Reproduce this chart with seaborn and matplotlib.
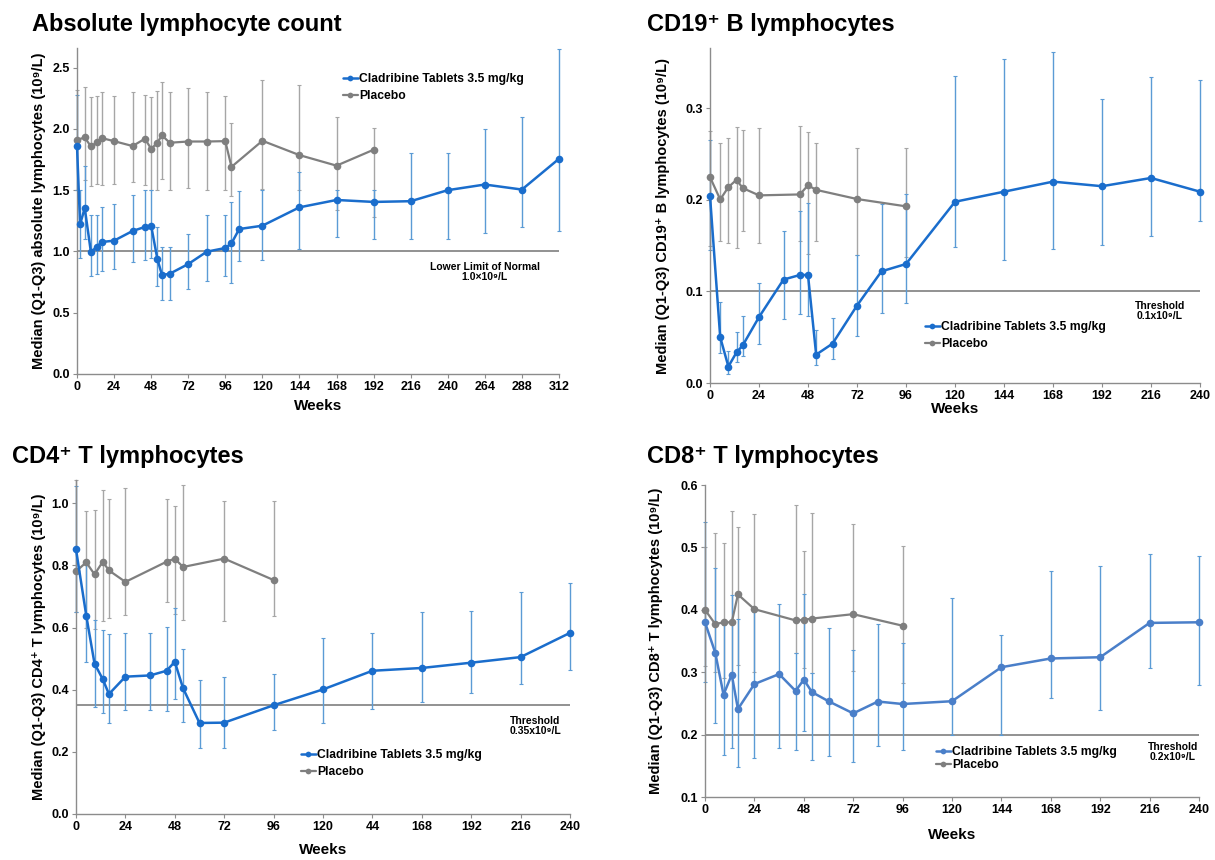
import matplotlib
matplotlib.use("Agg")
import matplotlib.pyplot as plt
import numpy as np
import pandas as pd
import seaborn as sns

sns.set_theme(style="ticks")
plt.rcParams["font.family"] = ["Liberation Sans", "DejaVu Sans"]
plt.rcParams["font.weight"] = "bold"
plt.rcParams["text.color"] = "black"
plt.rcParams["axes.labelcolor"] = "black"

LEG_CLA = "Cladribine Tablets 3.5 mg/kg"
LEG_PBO = "Placebo"

# Absolute lymphocyte count
alc_cla_weeks = [0, 2, 5, 9, 13, 16, 24, 36, 44, 48, 52, 55, 60, 72, 84, 96, 100, 105, 120,
                 144, 168, 192, 216, 240, 264, 288, 312]
alc_cla_med = [1.86, 1.22, 1.355, 0.995, 1.04, 1.077, 1.088, 1.167, 1.20, 1.21, 0.94, 0.807, 0.818,
               0.897, 0.998, 1.028, 1.066, 1.183, 1.21, 1.36, 1.42, 1.404, 1.41, 1.50, 1.546, 1.505, 1.756]
alc_cla_q1 = [1.50, 0.95, 1.10, 0.80, 0.82, 0.84, 0.86, 0.91, 0.93, 0.95, 0.72, 0.60, 0.60, 0.69,
              0.76, 0.80, 0.74, 0.92, 0.93, 1.02, 1.12, 1.10, 1.10, 1.10, 1.15, 1.20, 1.17]
alc_cla_q3 = [2.28, 1.50, 1.70, 1.30, 1.30, 1.36, 1.39, 1.46, 1.50, 1.50, 1.20, 1.04, 1.04, 1.14,
              1.30, 1.30, 1.40, 1.49, 1.50, 1.65, 1.50, 1.50, 1.80, 1.805, 2.00, 2.10, 2.65]
alc_pbo_weeks = [0, 5, 9, 13, 16, 24, 36, 44, 48, 52, 55, 60, 72, 84, 96, 100, 120, 144, 168, 192]
alc_pbo_med = [1.91, 1.93, 1.857, 1.89, 1.925, 1.90, 1.86, 1.92, 1.837, 1.887, 1.947, 1.887, 1.897,
               1.897, 1.90, 1.69, 1.903, 1.786, 1.70, 1.83]
alc_pbo_q1 = [1.50, 1.58, 1.53, 1.55, 1.54, 1.55, 1.57, 1.54, 1.50, 1.50, 1.59, 1.50, 1.52, 1.50,
              1.50, 1.45, 1.51, 1.50, 1.34, 1.28]
alc_pbo_q3 = [2.32, 2.34, 2.26, 2.27, 2.30, 2.27, 2.30, 2.28, 2.26, 2.31, 2.38, 2.30, 2.33, 2.30,
              2.27, 2.05, 2.40, 2.36, 2.10, 2.01]

# CD19+ B lymphocytes
cd19_cla_weeks = [0, 5, 9, 13, 16, 24, 36, 44, 48, 52, 60, 72, 84, 96, 120, 144, 168, 192, 216, 240]
cd19_cla_med = [0.2045, 0.050, 0.018, 0.0335, 0.041, 0.072, 0.113, 0.118, 0.118, 0.031, 0.043,
                0.0846, 0.122, 0.130, 0.198, 0.209, 0.220, 0.215, 0.224, 0.209]
cd19_cla_q1 = [0.145, 0.033, 0.010, 0.023, 0.030, 0.043, 0.070, 0.075, 0.073, 0.020, 0.026, 0.051,
               0.077, 0.087, 0.149, 0.1345, 0.1466, 0.1506, 0.161, 0.1765]
cd19_cla_q3 = [0.265, 0.089, 0.035, 0.056, 0.073, 0.109, 0.166, 0.188, 0.197, 0.058, 0.071, 0.140,
               0.196, 0.207, 0.335, 0.354, 0.362, 0.310, 0.334, 0.331]
cd19_pbo_weeks = [0, 5, 9, 13, 16, 24, 44, 48, 52, 72, 96]
cd19_pbo_med = [0.225, 0.2005, 0.214, 0.222, 0.213, 0.205, 0.206, 0.216, 0.211, 0.201, 0.193]
cd19_pbo_q1 = [0.150, 0.155, 0.153, 0.147, 0.166, 0.153, 0.155, 0.141, 0.155, 0.140, 0.138]
cd19_pbo_q3 = [0.275, 0.262, 0.268, 0.280, 0.276, 0.279, 0.281, 0.274, 0.262, 0.257, 0.257]

# CD4+ T lymphocytes
cd4_cla_weeks = [0, 5, 9, 13, 16, 24, 36, 44, 48, 52, 60, 72, 96, 120, 144, 168, 192, 216, 240]
cd4_cla_med = [0.852, 0.638, 0.484, 0.434, 0.386, 0.442, 0.446, 0.461, 0.490, 0.405, 0.293, 0.294,
               0.350, 0.401, 0.461, 0.470, 0.487, 0.505, 0.583]
cd4_cla_q1 = [0.65, 0.49, 0.343, 0.325, 0.292, 0.335, 0.335, 0.33, 0.37, 0.296, 0.214, 0.214, 0.27,
              0.294, 0.337, 0.361, 0.389, 0.419, 0.462]
cd4_cla_q3 = [1.055, 0.80, 0.623, 0.593, 0.58, 0.583, 0.583, 0.603, 0.663, 0.53, 0.43, 0.44, 0.452,
              0.565, 0.584, 0.650, 0.654, 0.713, 0.743]
cd4_pbo_weeks = [0, 5, 9, 13, 16, 24, 44, 48, 52, 72, 96]
cd4_pbo_med = [0.781, 0.81, 0.771, 0.812, 0.784, 0.747, 0.812, 0.822, 0.795, 0.822, 0.753]
cd4_pbo_q1 = [0.65, 0.60, 0.595, 0.62, 0.63, 0.64, 0.683, 0.645, 0.625, 0.622, 0.636]
cd4_pbo_q3 = [1.075, 0.975, 0.98, 1.043, 1.015, 1.05, 1.013, 0.99, 1.06, 1.008, 1.008]
cd4_xticklabels = ["0", "24", "48", "72", "96", "120", "44", "168", "192", "216", "240"]

# CD8+ T lymphocytes
cd8_cla_weeks = [0, 5, 9, 13, 16, 24, 36, 44, 48, 52, 60, 72, 84, 96, 120, 144, 168, 192, 216, 240]
cd8_cla_med = [0.380, 0.331, 0.264, 0.296, 0.241, 0.281, 0.297, 0.270, 0.288, 0.268, 0.2535, 0.234,
               0.253, 0.249, 0.2535, 0.308, 0.322, 0.324, 0.379, 0.380]
cd8_cla_q1 = [0.284, 0.218, 0.168, 0.178, 0.148, 0.163, 0.178, 0.175, 0.206, 0.160, 0.165, 0.156,
              0.182, 0.175, 0.200, 0.200, 0.259, 0.240, 0.307, 0.280]
cd8_cla_q3 = [0.540, 0.467, 0.375, 0.423, 0.385, 0.396, 0.410, 0.330, 0.425, 0.298, 0.371, 0.335,
              0.378, 0.347, 0.419, 0.360, 0.462, 0.470, 0.490, 0.486]
cd8_pbo_weeks = [0, 5, 9, 13, 16, 24, 44, 48, 52, 72, 96]
cd8_pbo_med = [0.400, 0.377, 0.380, 0.380, 0.4246, 0.401, 0.383, 0.384, 0.386, 0.393, 0.3745]
cd8_pbo_q1 = [0.31, 0.30, 0.29, 0.30, 0.312, 0.30, 0.33, 0.306, 0.298, 0.302, 0.283]
cd8_pbo_q3 = [0.50, 0.523, 0.507, 0.558, 0.533, 0.553, 0.568, 0.494, 0.555, 0.538, 0.502]

W, H = 1215, 860
GRAY = "#7f7f7f"
GRAY_ERR = "#a6a6a6"
ERR_BLUE = "#5b9bd5"
SPINE = "#8c8c8c"


def fig_rect(left, top, right, bottom):
    return [left / W, 1 - bottom / H, (right - left) / W, (bottom - top) / H]


def draw_panel(ax, cla, pbo, blue, ylim, yticks, xmax, threshold, ylabel, ypad, xpad,
               legend_xy, legend_spacing, xticklabels=None):
    width_px = ax.get_position().width * W
    height_px = ax.get_position().height * H
    for (weeks, med, q1, q3), err_c in ((pbo, GRAY_ERR), (cla, ERR_BLUE)):
        med = np.array(med)
        eb = ax.errorbar(weeks, med, yerr=[med - np.array(q1), np.array(q3) - med], fmt="none",
                         ecolor=err_c, elinewidth=1.0, capsize=1.5, capthick=0.8, zorder=2)
        for artist in eb.lines[1] + eb.lines[2]:
            artist.set_clip_on(False)
    ax.axhline(threshold, color=GRAY, lw=1.2, zorder=1)
    df_pbo = pd.DataFrame({"week": pbo[0], "value": pbo[1]})
    df_cla = pd.DataFrame({"week": cla[0], "value": cla[1]})
    sns.lineplot(data=df_cla, x="week", y="value", ax=ax, color=blue, marker="o", markersize=5.5,
                 markeredgewidth=0, linewidth=1.8, label=LEG_CLA, zorder=4, clip_on=False)
    sns.lineplot(data=df_pbo, x="week", y="value", ax=ax, color=GRAY, marker="o", markersize=5.5,
                 markeredgewidth=0, linewidth=1.6, label=LEG_PBO, zorder=3, clip_on=False)
    ax.set_xlim(0, xmax)
    ax.set_ylim(*ylim)
    ax.set_xticks(np.arange(0, xmax + 1, 24))
    if xticklabels is not None:
        ax.set_xticklabels(xticklabels)
    ax.set_yticks(yticks)
    ax.set_yticklabels([f"{t:.1f}" for t in yticks])
    ax.tick_params(labelsize=9, length=3, width=0.8, color=SPINE, labelcolor="black", pad=2)
    for lab in ax.get_xticklabels() + ax.get_yticklabels():
        lab.set_fontweight("bold")
    sns.despine(ax=ax)
    for s in ("left", "bottom"):
        ax.spines[s].set_color(SPINE)
        ax.spines[s].set_linewidth(1.0)
    ax.set_xlabel("Weeks", fontsize=11, fontweight="bold")
    ax.xaxis.set_label_coords(0.5, -xpad / height_px)
    ax.xaxis.label.set_va("top")
    ax.set_ylabel(ylabel, fontsize=10.5, fontweight="bold")
    ax.yaxis.set_label_coords(-ypad / width_px, 0.5)
    ax.legend(loc="upper left", bbox_to_anchor=(legend_xy[0] / W, 1 - legend_xy[1] / H),
              bbox_transform=ax.figure.transFigure, frameon=False, borderpad=0, borderaxespad=0,
              handlelength=1.2, handletextpad=0.15, labelspacing=legend_spacing,
              prop={"size": 8.7, "weight": "bold"}, markerscale=0.75)


fig = plt.figure(figsize=(W / 100, H / 100), dpi=100)
ax1 = fig.add_axes(fig_rect(77, 48, 559, 374))
ax2 = fig.add_axes(fig_rect(710, 48, 1200, 383))
ax3 = fig.add_axes(fig_rect(76, 480, 570, 814))
ax4 = fig.add_axes(fig_rect(705, 485, 1199, 797))

draw_panel(ax1, (alc_cla_weeks, alc_cla_med, alc_cla_q1, alc_cla_q3),
           (alc_pbo_weeks, alc_pbo_med, alc_pbo_q1, alc_pbo_q3), "#1a6dcc",
           (0, 2.66), [0.0, 0.5, 1.0, 1.5, 2.0, 2.5], 312, 1.0,
           "Median (Q1-Q3) absolute lymphocytes (10⁹/L)", 31, 25, (343, 73), 0.45)
draw_panel(ax2, (cd19_cla_weeks, cd19_cla_med, cd19_cla_q1, cd19_cla_q3),
           (cd19_pbo_weeks, cd19_pbo_med, cd19_pbo_q1, cd19_pbo_q3), "#1a6dcc",
           (0, 0.366), [0.0, 0.1, 0.2, 0.3], 240, 0.1,
           "Median (Q1-Q3) CD19⁺ B lymphocytes (10⁹/L)", 40, 19, (925, 321), 0.45)
draw_panel(ax3, (cd4_cla_weeks, cd4_cla_med, cd4_cla_q1, cd4_cla_q3),
           (cd4_pbo_weeks, cd4_pbo_med, cd4_pbo_q1, cd4_pbo_q3), "#1a6dcc",
           (0, 1.075), [0.0, 0.2, 0.4, 0.6, 0.8, 1.0], 240, 0.35,
           "Median (Q1-Q3) CD4⁺ T lymphocytes (10⁹/L)", 30, 29, (301, 749), 0.45,
           xticklabels=cd4_xticklabels)
draw_panel(ax4, (cd8_cla_weeks, cd8_cla_med, cd8_cla_q1, cd8_cla_q3),
           (cd8_pbo_weeks, cd8_pbo_med, cd8_pbo_q1, cd8_pbo_q3), "#4a7fc9",
           (0.1, 0.6), [0.1, 0.2, 0.3, 0.4, 0.5, 0.6], 240, 0.2,
           "Median (Q1-Q3) CD8⁺ T lymphocytes (10⁹/L)", 42, 31, (936, 746), 0.1)

# panel titles
for x, y, t in ((32, 25, "Absolute lymphocyte count"), (647, 25, "CD19⁺ B lymphocytes"),
                (12, 457, "CD4⁺ T lymphocytes"), (647, 457, "CD8⁺ T lymphocytes")):
    fig.text(x / W, 1 - y / H, t, fontsize=17, fontweight="bold", ha="left", va="center")

# threshold annotations
for x, y, t in ((485, 272, "Lower Limit of Normal\n1.0×10⁹/L"), (1160, 311, "Threshold\n0.1x10⁹/L"),
                (535, 726, "Threshold\n0.35x10⁹/L"), (1173, 752, "Threshold\n0.2x10⁹/L")):
    fig.text(x / W, 1 - y / H, t, fontsize=7.5, fontweight="bold", ha="center", va="center",
             linespacing=1.05)

fig.savefig("out.png", dpi=100)
